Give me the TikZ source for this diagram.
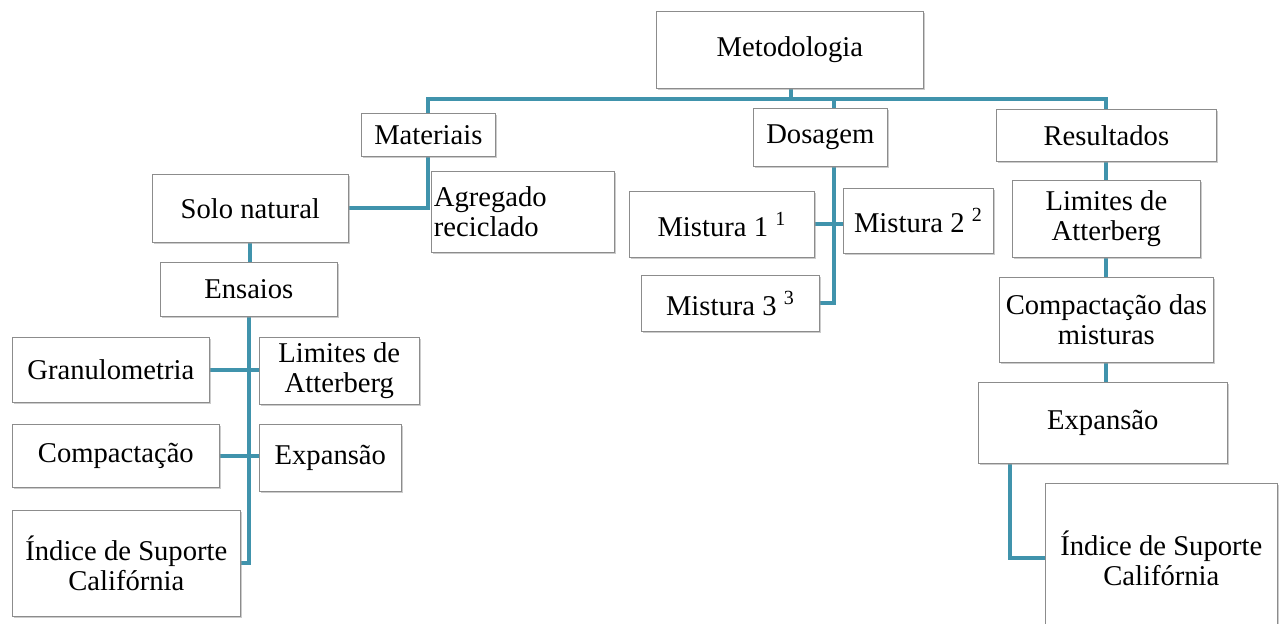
\documentclass[tikz,border=0pt]{standalone}
\usepackage{fontspec}
\setmainfont{Liberation Serif}
\usepackage{tikz}
\usetikzlibrary{positioning, shadows, backgrounds}
\definecolor{linkblue}{RGB}{64,147,172}

\begin{document}
\begin{tikzpicture}[
    x=0.02cm, y=-0.02cm,
    box/.style={draw=black!45, fill=white, anchor=north west, align=center,
                inner sep=1pt, font=\fontsize{16.3}{16.8}\selectfont,
                drop shadow={shadow xshift=0.7pt, shadow yshift=-0.9pt, fill=black!40}},
    link/.style={draw=linkblue, line width=2.3pt},
]
    \useasboundingbox (0,0) rectangle (1287,623);

    % top level
    \node[box, minimum width=5.34cm, minimum height=1.54cm] (met) at (656,11) {Metodologia};
    \node[box, minimum width=2.68cm, minimum height=0.86cm] (mat) at (361,113) {Materiais};
    \node[box, minimum width=2.68cm, minimum height=1.16cm] (dos) at (753,108) {Dosagem};
    \node[box, minimum width=4.40cm, minimum height=1.04cm] (res) at (996,109) {Resultados};

    % materiais
    \node[box, minimum width=3.92cm, minimum height=1.36cm] (solo) at (152,174) {Solo natural};
    \node[box, minimum width=3.66cm, minimum height=1.62cm, align=left,
          text width=3.56cm] (agr) at (431,171) {Agregado\\reciclado};
    \node[box, minimum width=3.54cm, minimum height=1.08cm] (ens) at (160,262) {Ensaios};
    \node[box, minimum width=3.94cm, minimum height=1.30cm] (gran) at (12,337) {Granulometria};
    \node[box, minimum width=3.20cm, minimum height=1.34cm] (lim) at (259,337) {Limites de\\Atterberg};
    \node[box, minimum width=4.14cm, minimum height=1.26cm] (comp) at (12,424) {Compactação};
    \node[box, minimum width=2.84cm, minimum height=1.34cm] (exp) at (259,424) {Expansão};
    \node[box, minimum width=4.56cm, minimum height=2.12cm] (isc) at (12,510) {Índice de Suporte\\Califórnia};

    % dosagem
    \node[box, minimum width=3.70cm, minimum height=1.32cm] (m1) at (629,191) {Mistura 1 \textsuperscript{1}};
    \node[box, minimum width=3.00cm, minimum height=1.30cm] (m2) at (843,188) {Mistura 2 \textsuperscript{2}};
    \node[box, minimum width=3.56cm, minimum height=1.12cm] (m3) at (641,275) {Mistura 3 \textsuperscript{3}};

    % resultados
    \node[box, minimum width=3.76cm, minimum height=1.54cm] (rlim) at (1012,180) {Limites de\\Atterberg};
    \node[box, minimum width=4.28cm, minimum height=1.70cm] (rcomp) at (999,277) {Compactação das\\misturas};
    \node[box, minimum width=4.98cm, minimum height=1.62cm] (rexp) at (978,382) {Expansão};
    \node[box, minimum width=4.64cm, minimum height=3.00cm] (risc) at (1045,483) {Índice de Suporte\\Califórnia};

    \coordinate (bus) at (791,99);
    \coordinate (dstem) at (834,99);
    \coordinate (rstem) at (1010,463);

    \begin{scope}[on background layer]
        \draw[link] (met.south -| bus) -- (bus);
        \draw[link] (solo.east) -| (mat.north |- bus) -| (res.north);
        \draw[link] (m3.east) -| (dstem);
        \draw[link] (m1.east) -- (m1.east -| m2.west);
        \draw[link] (solo.south) -- (solo.south |- ens.north);
        \draw[link] (ens.south) |- (isc.east);
        \draw[link] (gran.east) -- (gran.east -| lim.west);
        \draw[link] (comp.east) -- (comp.east -| exp.west);
        \draw[link] (res.south) -- (res.south |- rexp.north);
        \draw[link] (rstem |- rexp.south) |- (risc.west);
    \end{scope}
\end{tikzpicture}
\end{document}
